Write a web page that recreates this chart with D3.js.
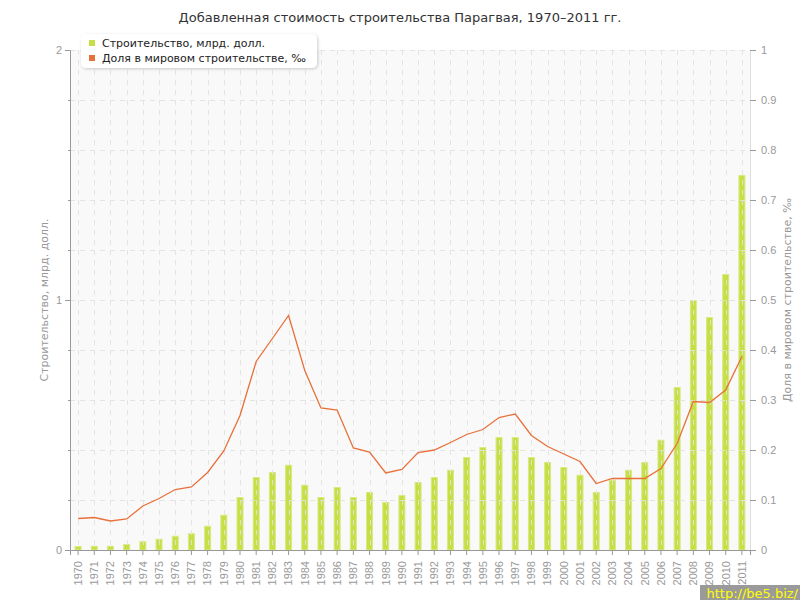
<!DOCTYPE html>
<html><head><meta charset="utf-8">
<script src="https://cdnjs.cloudflare.com/ajax/libs/d3/7.8.5/d3.min.js"></script>
<style>body{margin:0;background:#fff}svg{display:block;font-family:"DejaVu Sans",sans-serif}</style>
</head><body><svg id="c" width="800" height="600"></svg>
<script>
const years = d3.range(1970, 2012).map(String);
const construction = [0.016,0.017,0.017,0.024,0.035,0.045,0.057,0.067,0.097,0.141,0.212,0.292,0.312,0.341,0.261,0.212,0.252,0.212,0.232,0.192,0.22,0.272,0.292,0.321,0.372,0.412,0.452,0.452,0.372,0.352,0.332,0.301,0.232,0.281,0.321,0.352,0.441,0.652,1.0,0.932,1.104,1.50];
const share = [0.063,0.065,0.058,0.062,0.088,0.103,0.121,0.126,0.155,0.198,0.269,0.377,0.423,0.469,0.359,0.284,0.28,0.204,0.196,0.154,0.161,0.195,0.2,0.215,0.231,0.241,0.265,0.272,0.229,0.207,0.192,0.177,0.133,0.143,0.143,0.143,0.163,0.213,0.297,0.295,0.32,0.387];
const leftTicks = [0,1,2];
const rightTicks = [0,0.1,0.2,0.3,0.4,0.5,0.6,0.7,0.8,0.9,1];
const title = "Добавленная стоимость строительства Парагвая, 1970–2011 гг.";
const seriesNames = ["Строительство, млрд. долл.","Доля в мировом строительстве, ‰"];
const leftTitle = "Строительство, млрд. долл.";
const rightTitle = "Доля в мировом строительстве, ‰";

const svg = d3.select("#c");
const L=70,R=750,T=50,B=550;
const x = d3.scaleBand().domain(years).range([L,R]).padding(0);
const yL = d3.scaleLinear().domain([0,2]).range([B,T]);
const yR = d3.scaleLinear().domain([0,1]).range([B,T]);

svg.append("rect").attr("x",L).attr("y",T).attr("width",R-L).attr("height",B-T).attr("fill","#f9f9f9");

// bars
const bw=7;
svg.append("g").selectAll("rect").data(construction).join("rect")
  .attr("x",(d,i)=>x(years[i])+x.bandwidth()/2-bw/2+0.5)
  .attr("y",d=>yL(d)+0.5)
  .attr("width",bw-1)
  .attr("height",d=>Math.max(0,B-yL(d)-0.5))
  .attr("fill","#c6df45").attr("stroke","#d7ea84").attr("stroke-width",1);

// grid (over bars)
const g = svg.append("g").attr("stroke","#e2e2e2").attr("stroke-dasharray","5,5").attr("stroke-width",1).attr("opacity",0.9);
g.selectAll("line.v").data(years).join("line")
  .attr("x1",d=>Math.round(x(d)+x.bandwidth()/2)+0.5).attr("x2",d=>Math.round(x(d)+x.bandwidth()/2)+0.5)
  .attr("y1",T).attr("y2",B);
g.selectAll("line.h").data(rightTicks.slice(1)).join("line")
  .attr("x1",L).attr("x2",R).attr("y1",d=>Math.round(yR(d))+0.5).attr("y2",d=>Math.round(yR(d))+0.5);

// line
svg.append("path").datum(share)
  .attr("d",d3.line().x((d,i)=>x(years[i])+x.bandwidth()/2).y(d=>yR(d)))
  .attr("fill","none").attr("stroke","#e8703a").attr("stroke-width",1.3);

// axes
const axL = svg.append("g").attr("transform",`translate(${L},0)`)
  .call(d3.axisLeft(yL).tickValues(leftTicks).tickFormat(d3.format("d")).tickSize(5).tickPadding(3));
const minor = svg.append("g").attr("transform",`translate(${L},0)`)
  .call(d3.axisLeft(yL).tickValues(d3.range(0.2,2,0.2)).tickFormat("").tickSize(2));
minor.select(".domain").remove();
[axL,minor].forEach(a=>{a.selectAll("line").attr("stroke","#999");a.select(".domain").attr("stroke","#999");});
axL.selectAll("text").attr("fill","#999").style("font-size","11px");

const axR = svg.append("g").attr("transform",`translate(${R},0)`)
  .call(d3.axisRight(yR).tickValues(rightTicks).tickFormat(d=>d===0||d===1?String(d):d3.format(".1f")(d)).tickSize(6).tickPadding(5));
axR.select(".domain").attr("stroke","#ddd");
axR.selectAll("line").attr("stroke","#999");
axR.selectAll("text").attr("fill","#999").style("font-size","11px");

const axB = svg.append("g").attr("transform",`translate(0,${B})`)
  .call(d3.axisBottom(x).tickSize(5).tickPadding(3));
axB.select(".domain").attr("stroke","#999");
axB.selectAll("line").attr("stroke","#999");
axB.selectAll("text").attr("fill","#999").style("font-size","11px")
  .attr("transform","rotate(-90)").attr("text-anchor","end").attr("dy","0.35em").attr("x",-11).attr("y",0);

// titles
svg.append("text").attr("x",400).attr("y",22).attr("text-anchor","middle").attr("fill","#333").style("font-size","13px").text(title);
svg.append("text").attr("transform","translate(48,300) rotate(-90)").attr("text-anchor","middle").attr("fill","#999").style("font-size","11px").text(leftTitle);
svg.append("text").attr("transform","translate(791,300) rotate(-90)").attr("text-anchor","middle").attr("fill","#999").style("font-size","11px").text(rightTitle);

// legend
const defs = svg.append("defs");
const f = defs.append("filter").attr("id","sh").attr("x","-10%").attr("y","-30%").attr("width","120%").attr("height","160%");
f.append("feDropShadow").attr("dx",1).attr("dy",1).attr("stdDeviation",1.5).attr("flood-color","#000").attr("flood-opacity",0.2);
const lg = svg.append("g");
lg.append("rect").attr("x",81).attr("y",34).attr("width",236).attr("height",34).attr("rx",5).attr("fill","#fff").attr("filter","url(#sh)");
const colors=["#c6df45","#e8703a"];
seriesNames.forEach((s,i)=>{
  lg.append("rect").attr("x",89).attr("y",40+i*15).attr("width",6).attr("height",6).attr("fill",colors[i]);
  lg.append("text").attr("x",102).attr("y",47+i*15).attr("fill","#222").style("font-size","11px").text(s);
});

// watermark
svg.append("rect").attr("x",700).attr("y",585).attr("width",100).attr("height",15).attr("fill","#9a9a9a");
svg.append("text").attr("x",798).attr("y",598).attr("text-anchor","end").attr("fill","#ffff00").style("font-size","13px").text("http://be5.biz/");
</script></body></html>
